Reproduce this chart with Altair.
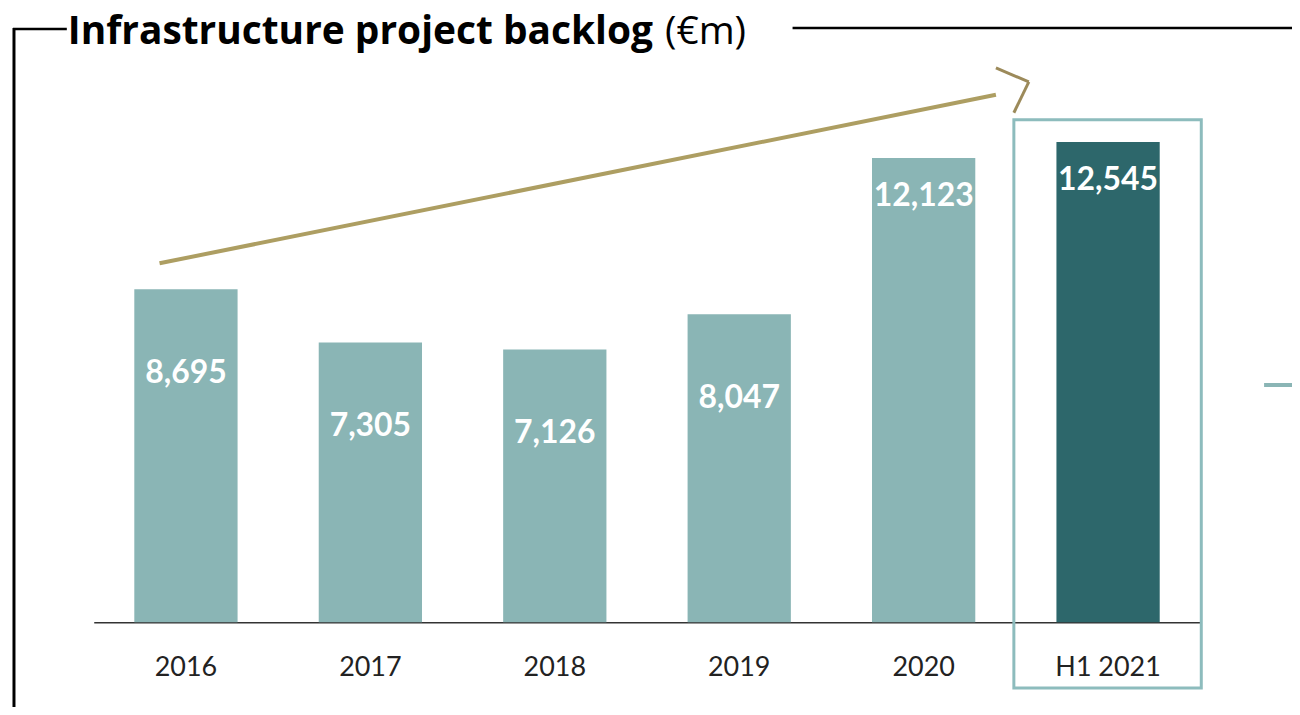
import altair as alt
import pandas as pd

categories = ["2016", "2017", "2018", "2019", "2020", "H1 2021"]
values = [8695, 7305, 7126, 8047, 12123, 12545]
highlight = [False, False, False, False, False, True]
labels = ["8,695", "7,305", "7,126", "8,047", "12,123", "12,545"]

title_bold = "Infrastructure project backlog"
title_unit = "(€m)"

LIGHT = "#8ab5b5"
DARK = "#2d676b"
GOLD = "#ad9e62"
FONT = "Lato"
TFONT = "Open Sans"

df = pd.DataFrame({"cat": categories, "value": values, "hl": highlight, "label": labels})

one = pd.DataFrame({"a": [0]})

x_enc = alt.X(
    "cat:N",
    sort=categories,
    scale=alt.Scale(domain=categories, paddingInner=0.44, paddingOuter=0.22),
    axis=alt.Axis(
        title=None,
        ticks=False,
        domainColor="#333333",
        domainWidth=1.5,
        labelFont=FONT,
        labelFontSize=27,
        labelColor="#222222",
        labelAngle=0,
        labelPadding=45,
        labelBaseline="middle",
    ),
)
y_enc = alt.Y("value:Q", scale=alt.Scale(domain=[0, 15000], nice=False), axis=None)

base = alt.Chart(df)

bars = base.mark_bar().encode(
    x=x_enc,
    y=y_enc,
    color=alt.Color("hl:N", scale=alt.Scale(domain=[False, True], range=[LIGHT, DARK]), legend=None),
)

lab_small = base.transform_filter("datum.value < 10000").mark_text(
    font=FONT, fontSize=32, fontWeight="bold", color="white", baseline="middle", dy=84
).encode(x=alt.X("cat:N", sort=categories), y="value:Q", text="label:N")

lab_big = base.transform_filter("datum.value >= 10000").mark_text(
    font=FONT, fontSize=32, fontWeight="bold", color="white", baseline="middle", dy=38
).encode(x=alt.X("cat:N", sort=categories), y="value:Q", text="label:N")

deco = alt.Chart(one)

frame_left = deco.mark_rule(color="black", strokeWidth=3).encode(
    x=alt.value(-80), y=alt.value(-20), y2=alt.value(700)
)
frame_tl = deco.mark_rule(color="black", strokeWidth=2.5).encode(
    x=alt.value(-81), x2=alt.value(-27), y=alt.value(-19)
)
frame_tr = deco.mark_rule(color="black", strokeWidth=2.5).encode(
    x=alt.value(701), x2=alt.value(1230), y=alt.value(-20)
)
t1 = deco.mark_text(
    font=TFONT, fontSize=39, fontWeight="bold", color="black", align="left", baseline="alphabetic"
).encode(x=alt.value(-26), y=alt.value(-4), text=alt.value(title_bold))
t2 = deco.mark_text(
    font=TFONT, fontSize=39, fontWeight="normal", color="black", align="left", baseline="alphabetic"
).encode(x=alt.value(573), y=alt.value(-4), text=alt.value(title_unit))

arrow = deco.mark_rule(color=GOLD, strokeWidth=4).encode(
    x=alt.value(66), y=alt.value(216), x2=alt.value(905), y2=alt.value(47)
)
chev1 = deco.mark_rule(color="#9c8a5a", strokeWidth=3).encode(
    x=alt.value(905), y=alt.value(20), x2=alt.value(938), y2=alt.value(34)
)
chev2 = deco.mark_rule(color="#9c8a5a", strokeWidth=3).encode(
    x=alt.value(938), y=alt.value(34), x2=alt.value(923), y2=alt.value(65)
)
box = deco.mark_rect(fillOpacity=0, stroke="#8dbcbd", strokeWidth=3).encode(
    x=alt.value(923), x2=alt.value(1111), y=alt.value(72), y2=alt.value(642)
)
side = deco.mark_rule(color=LIGHT, strokeWidth=4).encode(
    x=alt.value(1174), x2=alt.value(1230), y=alt.value(338)
)

chart = alt.layer(
    bars, lab_small, lab_big, frame_left, frame_tl, frame_tr, t1, t2, arrow, chev1, chev2, box, side
).properties(
    width=1110,
    height=576,
    autosize=alt.AutoSizeParams(type="none"),
    padding={"left": 86, "top": 39, "right": 92, "bottom": 84},
).configure_view(stroke=None)

chart.save("out.html", embed_options={"renderer": "svg", "actions": False})
